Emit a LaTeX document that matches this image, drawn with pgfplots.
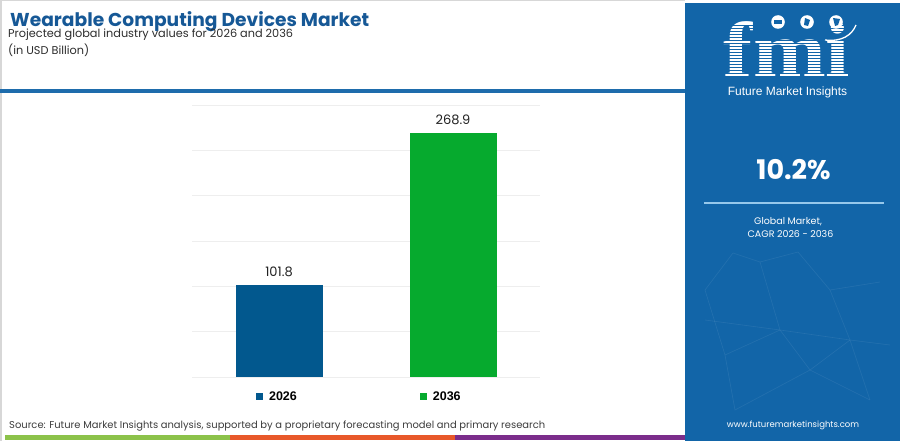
\documentclass[border=0pt]{standalone}
\usepackage{pgfplots}
\pgfplotsset{compat=1.18}
\usepackage{fontspec}
\setmainfont{Poppins}
\newfontfamily\arialf{Liberation Sans}
\newfontfamily\serifb{Liberation Serif}
\definecolor{titleblue}{RGB}{22,88,150}
\definecolor{subgray}{RGB}{45,45,45}
\definecolor{srcgray}{RGB}{60,60,60}
\definecolor{hdrblue}{RGB}{30,108,172}
\definecolor{panel}{RGB}{18,101,168}
\definecolor{linelight}{RGB}{150,200,235}
\definecolor{barg}{RGB}{140,194,74}
\definecolor{baro}{RGB}{232,88,42}
\definecolor{barp}{RGB}{123,45,139}
\definecolor{bar26}{RGB}{2,88,142}
\definecolor{bar36}{RGB}{6,170,46}
\definecolor{gridgray}{RGB}{238,238,238}
\definecolor{labgray}{RGB}{34,34,34}
\definecolor{framegray}{RGB}{215,215,215}
\begin{document}
\begin{tikzpicture}
\begin{scope}[x=1pt,y=-1pt]
\fill[white] (0,0) rectangle (900,441);
\draw[framegray, line width=1.5pt] (0.75,441) -- (0.75,0.75) -- (685,0.75);
% header line
\fill[hdrblue] (0,89) rectangle (685,93);
% titles
\node[anchor=base west, inner sep=0pt, font=\fontsize{18.65}{21}\selectfont\bfseries, text=titleblue] at (10,26.7) {Wearable Computing Devices Market};
\node[anchor=base west, inner sep=0pt, font=\fontsize{11.3}{13}\selectfont, text=subgray] at (8,37.8) {Projected global industry values for 2026 and 2036};
\node[anchor=base west, inner sep=0pt, font=\fontsize{11.3}{13}\selectfont, text=subgray] at (8,54.5) {(in USD Billion)};
% source
\node[anchor=base west, inner sep=0pt, font=\fontsize{9.95}{12}\selectfont, text=srcgray] at (9,428) {Source: Future Market Insights analysis, supported by a proprietary forecasting model and primary research};
% bottom colour bar
\fill[barg] (5,435) rectangle (230,439.5);
\fill[baro] (230,435) rectangle (455,439.5);
\fill[barp] (455,435) rectangle (685,439.5);
% right panel
\fill[panel] (685,3) rectangle (900,441);
% faint network
\begin{scope}[white, opacity=0.08, line width=0.6pt]
\draw (733,253) -- (705,290) -- (725,355) -- (735,410) -- (810,370) -- (870,400);
\draw (733,253) -- (760,262) -- (798,252) -- (830,290) -- (880,282);
\draw (760,262) -- (780,330) -- (850,340) -- (890,345);
\draw (780,330) -- (725,355);
\draw (830,290) -- (850,340) -- (870,400);
\draw (780,330) -- (810,370) -- (850,340);
\draw (705,320) -- (780,330);
\end{scope}
% logo
\node[anchor=base, inner sep=0pt, font=\serifb\bfseries\fontsize{78}{80}\selectfont, text=white, xscale=1.12] at (787,77) {fmi};
\foreach \yy in {25.5,28.5,...,76.5} \draw[panel, line width=0.9pt] (712,\yy) -- (862,\yy);
\fill[white] (778,22) circle (6.8);
\fill[white] (807,22) circle (6.8);
\fill[white] (836,22) circle (6.8);
\fill[panel] (774,20) rectangle (782,24);
\fill[panel] (805,18) -- (810,20) -- (808,26) -- (804,25) -- cycle;
\fill[panel] (833,18) -- (840,19) -- (838,25) -- (835,26) -- cycle;
\draw[white, line width=1.3pt] (825,40) .. controls (842,42) and (852,35) .. (856,25);
\node[anchor=base, inner sep=0pt, font=\arialf\fontsize{12}{14}\selectfont, text=white] at (787.5,96) {Future Market Insights};
% CAGR
\node[anchor=base, inner sep=0pt, font=\fontsize{27}{30}\selectfont\bfseries, text=white] at (793.5,179) {10.2\%};
\draw[linelight, line width=2pt] (704,203.3) -- (884,203.3);
\node[anchor=base, inner sep=0pt, font=\fontsize{9.5}{11}\selectfont, text=white] at (788,224) {Global Market,};
\node[anchor=base, inner sep=0pt, font=\fontsize{9.5}{11}\selectfont, text=white] at (790.5,237.3) {CAGR 2026 - 2036};
\node[anchor=base, inner sep=0pt, font=\fontsize{8.5}{10}\selectfont, text=white] at (793,427) {www.futuremarketinsights.com};
\end{scope}
\begin{axis}[
  at={(192pt,-377pt)}, anchor=south west,
  scale only axis, width=348pt, height=272pt,
  xmin=-0.5, xmax=1.5, ymin=0, ymax=300,
  ytick={0,50,...,300}, yticklabels={}, xtick=\empty,
  ymajorgrids, grid style={draw=gridgray, line width=0.8pt},
  axis line style={draw=none}, major tick length=0pt,
  ybar, bar width=87pt, bar shift=0pt,
  nodes near coords={\pgfmathprintnumber[fixed,fixed zerofill,precision=1,assume math mode=true]{\pgfplotspointmeta}},
  every node near coord/.append style={font=\fontsize{13}{15}\selectfont, text=labgray, anchor=south, inner sep=0pt, yshift=8pt},
  legend style={at={(0.481,-0.0735)}, anchor=center, draw=none, fill=none, legend columns=2,
    font=\arialf\bfseries\fontsize{12.5}{14}\selectfont,
    /tikz/every odd column/.append style={column sep=4pt},
    /tikz/every even column/.append style={column sep=121pt}},
]
\addplot[fill=bar26, draw=none, legend image code/.code={\fill[bar26] (0pt,-3.5pt) rectangle (7pt,3.5pt);}] coordinates {(0,101.8)};
\addplot[fill=bar36, draw=none, legend image code/.code={\fill[bar36] (0pt,-3.5pt) rectangle (7pt,3.5pt);}] coordinates {(1,268.9)};
\legend{2026,2036}
\end{axis}
\pgfresetboundingbox
\useasboundingbox (0,0) rectangle (900pt,-441pt);
\end{tikzpicture}
\end{document}
